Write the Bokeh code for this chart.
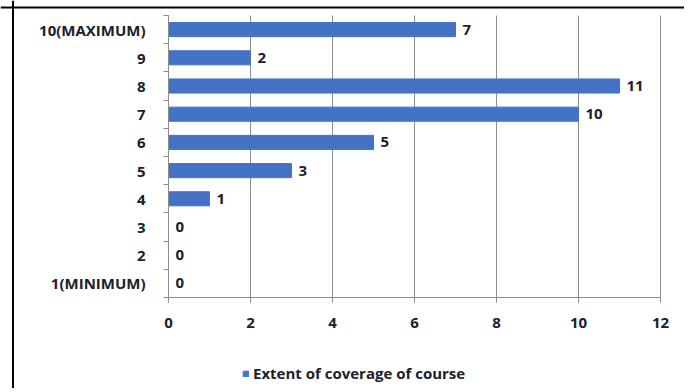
from bokeh.plotting import figure
from bokeh.models import Range1d, FixedTicker, Legend, LegendItem, ColumnDataSource, Span
from bokeh.core.properties import value
from bokeh.embed import file_html
from bokeh.resources import INLINE

categories = ["1(MINIMUM)", "2", "3", "4", "5", "6", "7", "8", "9", "10(MAXIMUM)"]
counts = [0, 0, 0, 1, 3, 5, 10, 11, 2, 7]
x_ticks = [0, 2, 4, 6, 8, 10, 12]
series_name = "Extent of coverage of course"

n = len(categories)
ypos = [i + 0.5 for i in range(n)]
src = ColumnDataSource(dict(y=ypos, v=counts, lab=[str(c) for c in counts]))
grid_src = ColumnDataSource(dict(x=x_ticks, y0=[0] * len(x_ticks), y1=[n] * len(x_ticks)))

FONT = "Open Sans"
TXT = "#20202c"
GRID = "#8c8c8c"
FS = "15px"

W, H = 684, 388
# frame covers the whole canvas; axes are pinned inside it
p = figure(width=W, height=H, output_backend="svg", toolbar_location=None,
           x_range=Range1d(-168 / 41, (W - 168) / 41),
           y_range=Range1d(-(H - 297) / 28.2, n + 15 / 28.2),
           min_border=0)
p.outline_line_color = None
p.xgrid.visible = False
p.ygrid.visible = False

p.segment(x0="x", x1="x", y0="y0", y1="y1", source=grid_src, line_color=GRID, line_width=1)

bars = p.hbar(y="y", right="v", left=0, height=0.5, source=src,
              fill_color="#4472C4", line_color="#4472C4")
p.text(x="v", y="y", text="lab", source=src, x_offset=7, text_baseline="middle",
       text_align="left", text_font=value(FONT), text_font_size=FS,
       text_font_style="bold", text_color=TXT)

# x axis pinned at y = 0
p.xaxis.fixed_location = 0
p.xaxis.bounds = (0, 12)
p.xaxis.ticker = FixedTicker(ticks=x_ticks)
p.xaxis.axis_line_color = GRID
p.xaxis.major_tick_line_color = GRID
p.xaxis.major_tick_out = 5
p.xaxis.major_tick_in = 0
p.xaxis.minor_tick_line_color = None
p.xaxis.major_label_standoff = 15
p.xaxis.major_label_text_font = FONT
p.xaxis.major_label_text_font_size = FS
p.xaxis.major_label_text_font_style = "bold"
p.xaxis.major_label_text_color = TXT

# y axis pinned at x = 0
p.yaxis.fixed_location = 0
p.yaxis.bounds = (0, n)
p.yaxis.ticker = FixedTicker(ticks=ypos, minor_ticks=list(range(n + 1)))
p.yaxis.major_label_overrides = {y: c for y, c in zip(ypos, categories)}
p.yaxis.axis_line_color = GRID
p.yaxis.major_tick_line_color = None
p.yaxis.minor_tick_line_color = GRID
p.yaxis.minor_tick_out = 5
p.yaxis.minor_tick_in = 0
p.yaxis.major_label_standoff = 17
p.yaxis.major_label_text_font = FONT
p.yaxis.major_label_text_font_size = FS
p.yaxis.major_label_text_font_style = "bold"
p.yaxis.major_label_text_color = TXT

legend = Legend(items=[LegendItem(label=series_name, renderers=[bars])],
                location=(242, 5), orientation="horizontal",
                padding=0, margin=0, spacing=0, border_line_color=None,
                background_fill_alpha=0, glyph_width=7, glyph_height=7,
                label_standoff=4, label_text_font=FONT, label_text_font_size=FS,
                label_text_font_style="bold", label_text_color=TXT, label_height=16)
p.add_layout(legend, "center")

# table-cell border of the original page
p.add_layout(Span(location=12.5, location_units="screen", dimension="height",
                  line_color="black", line_width=2))
p.add_layout(Span(location=H - 7, location_units="screen", dimension="width",
                  line_color="black", line_width=2))

open("out.html", "w").write(file_html(p, INLINE))
